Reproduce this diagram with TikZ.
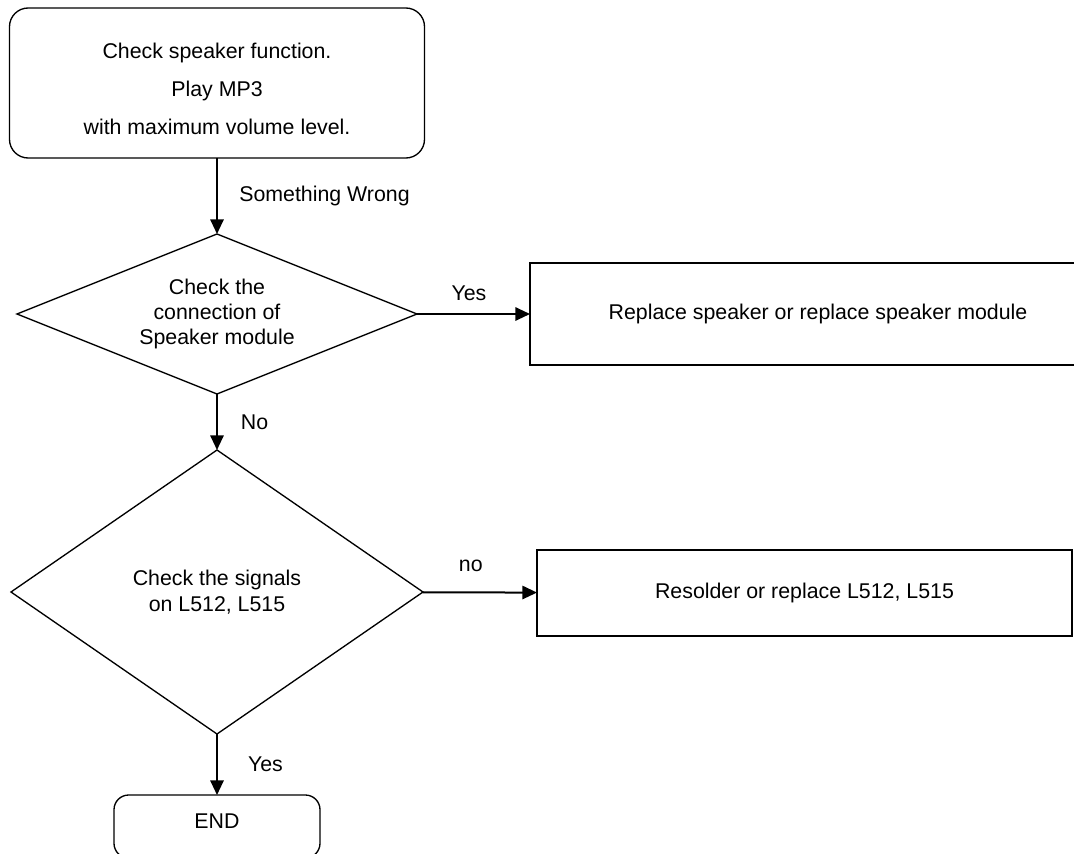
\documentclass[tikz,border=0pt]{standalone}
\usepackage{fontspec}
\setmainfont{Liberation Sans}
\usetikzlibrary{shapes.geometric,arrows.meta}
\newdimen\px \px=0.75pt
\begin{document}
\begin{tikzpicture}[
        x=0.75pt, y=-0.75pt,
        every node/.style={font=\fontsize{16}{18.4}\selectfont, text centered},
        box/.style={draw, line width=1pt, rectangle, inner sep=0pt, outer sep=0pt},
        rbox/.style={box, rounded corners=14pt},
        decision/.style={draw, line width=1pt, diamond, inner sep=0pt, outer sep=0pt, align=center},
        ar/.style={-{Triangle[length=11pt, width=10pt]}, line width=1.5pt},
        invis/.style={draw=none, inner sep=2pt},
    ]

    \useasboundingbox (0,0) rectangle (1074,853);

    \node[rbox, minimum width=415\px, minimum height=150\px](check) at (217,83) {};
    \node[invis, align=center, font=\fontsize{16}{28.5}\selectfont](checktext) at (217,89) {Check speaker function.\\Play MP3\\with maximum volume level.};
    \node[decision, aspect=2.5, minimum width=400\px, minimum height=160\px](conn) at (217,314) {Check the\\connection of\\Speaker module};
    \node[decision, aspect=1.45, minimum width=412\px, minimum height=284\px, font=\fontsize{16}{19.5}\selectfont](sig) at (217,592) {Check the signals\\on L512, L515};
    \node[box, minimum width=576\px, minimum height=102\px](spk) at (818,314) {Replace speaker or replace speaker module};
    \node[box, minimum width=535\px, minimum height=86\px](res) at (804.5,593) {Resolder or replace L512, L515};
    \node[rbox, rounded corners=11pt, minimum width=206\px, minimum height=63\px, text depth=7.5pt](fin) at (217,826.5) {END};

    \draw[ar] (check) to node[midway, right, invis, xshift=14pt]{Something Wrong} (conn);
    \draw[ar] (conn) to node[midway, above, invis, xshift=-3.4pt, yshift=6.9pt]{Yes} (spk);
    \draw[ar] (conn) to node[midway, right, invis, xshift=15.2pt]{No} (sig);
    \draw[ar] (sig) to node[midway, above, invis, xshift=-6.7pt, yshift=12.6pt]{no} (res);
    \draw[ar] (sig) to node[midway, right, invis, xshift=20.5pt]{Yes} (fin);

    \end{tikzpicture}
\end{document}
